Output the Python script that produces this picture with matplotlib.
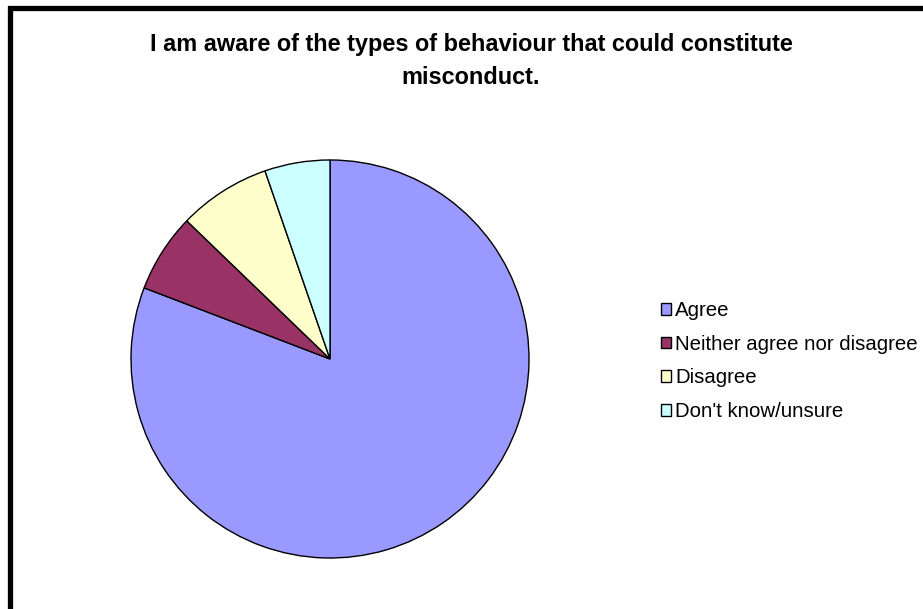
import matplotlib.pyplot as plt
from matplotlib.patches import Rectangle

# Survey responses (percent of respondents)
labels = ['Agree', 'Neither agree nor disagree', 'Disagree', "Don't know/unsure"]
shares = [80.9, 6.4, 7.5, 5.3]
colors = ['#9999FF', '#993366', '#FFFFCC', '#CCFFFF']

title = 'I am aware of the types of behaviour that could constitute\nmisconduct.'

W, H = 923, 609
fig = plt.figure(figsize=(W / 100, H / 100), dpi=100)
plt.rcParams['font.family'] = ['Liberation Sans', 'DejaVu Sans']

# Pie sits in a square box, 400 px across
ax = fig.add_axes([130 / W, 1 - 559 / H, 400 / W, 400 / H])
wedges, _ = ax.pie(shares, colors=colors, startangle=90, counterclock=False,
                   wedgeprops=dict(edgecolor='black', linewidth=1.0))
ax.set_xlim(-1.005, 1.005)
ax.set_ylim(-1.005, 1.005)
ax.set_aspect('equal')
ax.axis('off')

fig.text(471 / W, 1 - 61 / H, title, ha='center', va='center',
         fontsize=16.9, fontweight='bold', linespacing=1.5)

leg = fig.legend(wedges, labels, loc='center left',
                 bbox_to_anchor=(661 / W, 1 - 361 / H),
                 frameon=False, fontsize=14.7, borderpad=0, borderaxespad=0,
                 handlelength=0.5, handleheight=0.5, handletextpad=0.2,
                 labelspacing=0.72)
for h in leg.legend_handles:
    h.set_linewidth(1.0)
    h.set_edgecolor('black')

# Chart-area border, running off the right and bottom edges
fig.patches.append(Rectangle((10 / W, -0.1), 1.2, 1.1 - 8.4 / H,
                             transform=fig.transFigure, fill=False,
                             edgecolor='black', linewidth=3.8))

fig.savefig('out.png', dpi=100)
